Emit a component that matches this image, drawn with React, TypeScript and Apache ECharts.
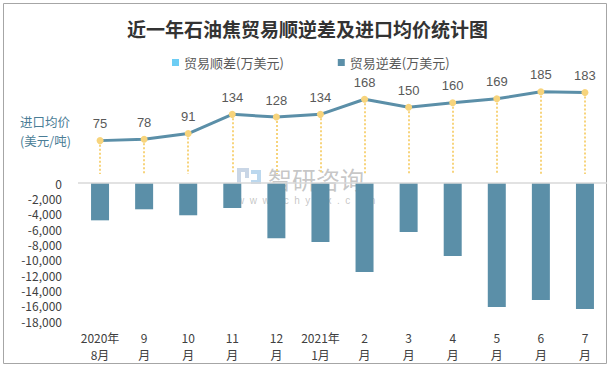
import React, { useEffect, useRef } from "react";
import * as echarts from "echarts";

const categories = [
  "2020年\n8月", "9\n月", "10\n月", "11\n月", "12\n月", "2021年\n1月",
  "2\n月", "3\n月", "4\n月", "5\n月", "6\n月", "7\n月",
];
const surplus = [0, 0, 0, 0, 0, 0, 0, 0, 0, 0, 0, 0];
const deficit = [-4870, -3430, -4210, -3260, -7210, -7690, -11600, -6390, -9520, -16170, -15260, -16430];
const price = [75, 78, 91, 134, 128, 134, 168, 150, 160, 169, 185, 183];
const titleText = "近一年石油焦贸易顺逆差及进口均价统计图";
const surplusName = "贸易顺差(万美元)";
const deficitName = "贸易逆差(万美元)";
const priceAxisName1 = "进口均价";
const priceAxisName2 = "(美元/吨)";

const FONT = "'Noto Sans CJK SC', 'Liberation Sans', sans-serif";

export default function App() {
  const ref = useRef<HTMLDivElement>(null);
  useEffect(() => {
    if (!ref.current) return;
    const chart = echarts.init(ref.current, undefined, { renderer: "svg" });
    chart.setOption({
      animation: false,
      backgroundColor: "#ffffff",
      textStyle: { fontFamily: FONT },
      title: {
        text: titleText,
        left: "center",
        top: 14,
        textStyle: { fontSize: 19, fontWeight: "bold", color: "#333333", fontFamily: FONT },
      },
      legend: {
        left: 167,
        top: 51,
        itemWidth: 7,
        itemHeight: 7,
        itemGap: 54,
        icon: "rect",
        data: [surplusName, deficitName],
        textStyle: { fontSize: 13, color: "#595959", fontFamily: FONT },
      },
      grid: [
        { left: 78, right: 8, top: 85, height: 89 },
        { left: 78, right: 8, top: 183, height: 138 },
      ],
      xAxis: [
        { type: "category", gridIndex: 0, data: categories, show: false },
        {
          type: "category",
          gridIndex: 1,
          data: categories,
          position: "bottom",
          axisLine: { show: false, onZero: false },
          axisTick: { show: false },
          axisLabel: {
            margin: 8,
            fontSize: 12,
            lineHeight: 17,
            color: "#404040",
            interval: 0,
            fontFamily: FONT,
          },
        },
      ],
      yAxis: [
        { type: "value", gridIndex: 0, min: 0, max: 200, show: false },
        {
          type: "value",
          gridIndex: 1,
          min: -18000,
          max: 0,
          interval: 2000,
          splitLine: { show: false },
          axisLine: { show: false },
          axisTick: { show: false },
          axisLabel: {
            margin: 16,
            fontSize: 12,
            color: "#404040",
            fontFamily: FONT,
            formatter: (v: number) => {
              const s = Math.abs(v).toLocaleString("en-US");
              return v < 0 ? "-" + s : s;
            },
          },
        },
      ],
      series: [
        {
          type: "line",
          xAxisIndex: 0,
          yAxisIndex: 0,
          data: price,
          symbol: "circle",
          symbolSize: 7,
          itemStyle: { color: "#f7d47c" },
          lineStyle: { color: "#5b8fa8", width: 3 },
          label: {
            show: true,
            position: "top",
            distance: 7,
            fontSize: 13,
            color: "#595959",
            fontFamily: "'Liberation Sans', sans-serif",
          },
          markLine: {
            silent: true,
            symbol: "none",
            label: { show: false },
            lineStyle: { color: "#f7d47c", type: "dotted", width: 2 },
            emphasis: { disabled: true },
            data: price.map((v, i) => [{ coord: [i, v] }, { coord: [i, 0] }]),
          },
          z: 3,
        },
        {
          type: "bar",
          name: surplusName,
          xAxisIndex: 1,
          yAxisIndex: 1,
          stack: "trade",
          barWidth: 18,
          data: surplus,
          itemStyle: { color: "#6dcdf4" },
        },
        {
          type: "bar",
          name: deficitName,
          xAxisIndex: 1,
          yAxisIndex: 1,
          stack: "trade",
          barWidth: 18,
          data: deficit,
          itemStyle: { color: "#5b8fa8" },
          markLine: {
            silent: true,
            symbol: "none",
            label: { show: false },
            lineStyle: { color: "#d9d9d9", type: "solid", width: 1.5 },
            emphasis: { disabled: true },
            data: [{ yAxis: 0 }],
          },
        },
      ],
      graphic: [
        {
          type: "rect",
          shape: { x: 3.5, y: 3.5, width: 603, height: 360 },
          style: { fill: "none", stroke: "#a6a6a6", lineWidth: 1 },
          silent: true,
        },
        {
          type: "text",
          left: 20,
          top: 114,
          style: { text: priceAxisName1, fontSize: 12.5, lineHeight: 14, fill: "#4a7d96", fontFamily: FONT },
        },
        {
          type: "text",
          left: 20,
          top: 133,
          style: { text: priceAxisName2, fontSize: 12.5, lineHeight: 14, fill: "#4a7d96", fontFamily: FONT },
        },
        {
          type: "group",
          left: 237,
          top: 166,
          silent: true,
          children: [
            { type: "rect", shape: { x: 0, y: 0, width: 11, height: 4 }, style: { fill: "#c9d6e6" } },
            { type: "rect", shape: { x: 0, y: 0, width: 4, height: 18 }, style: { fill: "#c9d6e6" } },
            { type: "rect", shape: { x: 8, y: 0, width: 4, height: 10 }, style: { fill: "#c9d6e6" } },
            { type: "rect", shape: { x: 14, y: 2, width: 10, height: 4 }, style: { fill: "#bcd8ee" } },
            { type: "rect", shape: { x: 20, y: 2, width: 4, height: 14 }, style: { fill: "#bcd8ee" } },
            { type: "rect", shape: { x: 14, y: 12, width: 10, height: 4 }, style: { fill: "#bcd8ee" } },
            {
              type: "text",
              x: 31,
              y: -2,
              style: {
                text: "智研咨询",
                fontSize: 24,
                lineHeight: 24,
                fill: "rgba(150,150,150,0.55)",
                fontFamily: FONT,
              },
            },
            {
              type: "text",
              x: 0,
              y: 27,
              style: {
                text: "w  w  w  .  c  h  y  x  x  .  c  o  m",
                fontSize: 10,
                lineHeight: 10,
                fill: "rgba(150,150,150,0.55)",
                fontFamily: "'Liberation Sans', sans-serif",
              },
            },
          ],
        },
      ],
    });
    return () => chart.dispose();
  }, []);
  return (
    <div
      ref={ref}
      style={{ position: "fixed", left: 0, top: 0, width: 615, height: 370 }}
    />
  );
}
